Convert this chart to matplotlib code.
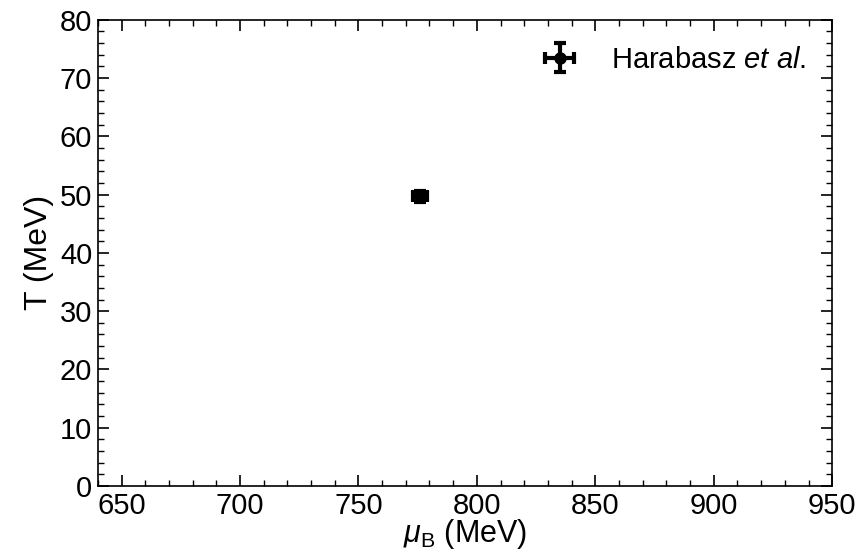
import matplotlib
matplotlib.use("Agg")
import matplotlib.pyplot as plt
from matplotlib.ticker import MultipleLocator

plt.rcParams['font.family'] = ['Liberation Sans', 'DejaVu Sans']
plt.rcParams['mathtext.fontset'] = 'custom'
plt.rcParams['mathtext.it'] = 'Liberation Sans:italic'
plt.rcParams['mathtext.rm'] = 'Liberation Sans'

# data
mu_B = [776.0]
T = [49.7]
mu_err = [3.0]
T_err = [1.0]
label = 'Harabasz $\\it{et\\ al}$.'

fig = plt.figure(figsize=(8.58, 5.51), dpi=100)
ax = fig.add_axes([0.114, 0.118, 0.856, 0.846])

ax.errorbar(mu_B, T, xerr=mu_err, yerr=T_err, fmt='o', color='black',
            markersize=8, elinewidth=3, capsize=4, capthick=3, label=label)

ax.set_xlim(640, 950)
ax.set_ylim(0, 80)
ax.xaxis.set_major_locator(MultipleLocator(50))
ax.xaxis.set_minor_locator(MultipleLocator(10))
ax.yaxis.set_major_locator(MultipleLocator(10))
ax.yaxis.set_minor_locator(MultipleLocator(2))
ax.tick_params(which='both', direction='in', top=True, right=True, labelsize=21)
ax.tick_params(which='major', length=8, width=1.2, pad=4)
ax.tick_params(which='minor', length=4, width=1.0)
for s in ax.spines.values():
    s.set_linewidth(1.2)

ax.set_xlabel('$\\mu_{\\rm B}$ (MeV)', fontsize=22, labelpad=-2)
ax.set_ylabel('T (MeV)', fontsize=23, labelpad=4)

leg = ax.legend(loc='upper right', frameon=False, fontsize=21,
                handletextpad=0.75, borderaxespad=0.5)

fig.savefig('out.png', dpi=100)
